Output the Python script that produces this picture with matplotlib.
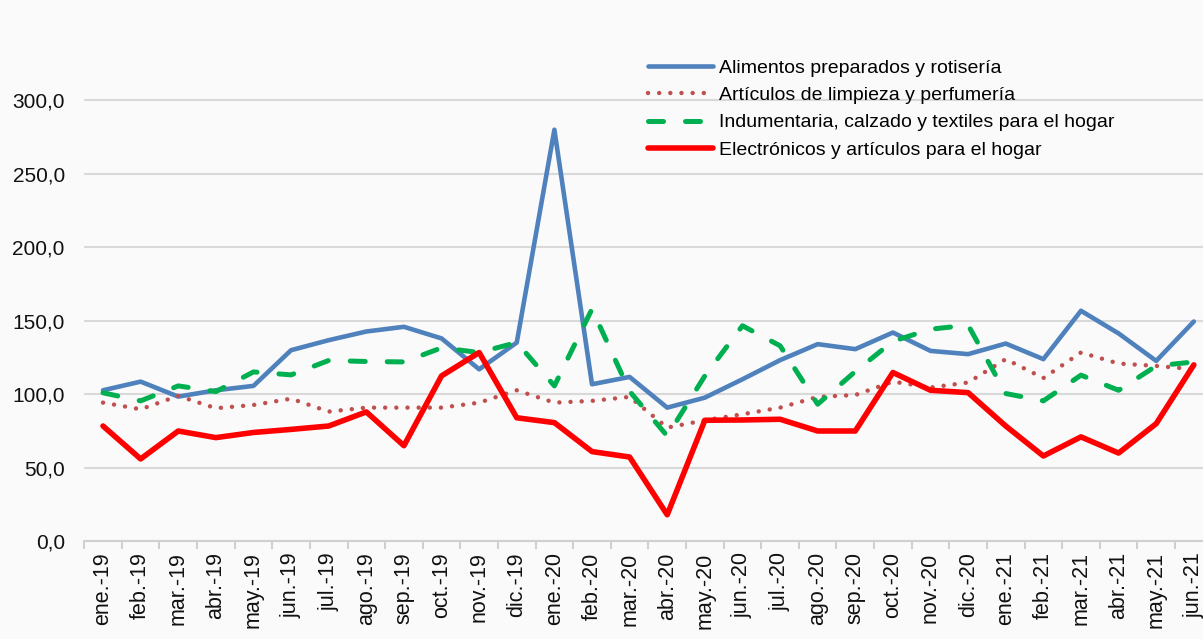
import matplotlib.pyplot as plt
from matplotlib.ticker import FuncFormatter, FixedLocator

plt.rcParams['font.family'] = ['Liberation Sans', 'DejaVu Sans']

meses = ['ene.-19', 'feb.-19', 'mar.-19', 'abr.-19', 'may.-19', 'jun.-19',
         'jul.-19', 'ago.-19', 'sep.-19', 'oct.-19', 'nov.-19', 'dic.-19',
         'ene.-20', 'feb.-20', 'mar.-20', 'abr.-20', 'may.-20', 'jun.-20',
         'jul.-20', 'ago.-20', 'sep.-20', 'oct.-20', 'nov.-20', 'dic.-20',
         'ene.-21', 'feb.-21', 'mar.-21', 'abr.-21', 'may.-21', 'jun.-21']

alimentos = [102.7, 108.6, 98.4, 102.7, 105.7, 130.0, 136.8, 142.7, 145.9, 138.0,
             117.0, 135.2, 280.0, 106.8, 111.8, 90.9, 97.7, 110.2, 123.2, 134.1,
             130.7, 142.0, 129.5, 127.3, 134.5, 123.9, 156.8, 141.4, 122.7, 149.5]

limpieza = [94.3, 89.8, 98.9, 90.5, 92.7, 97.0, 88.2, 90.9, 90.9, 90.9,
            94.3, 102.7, 94.3, 95.5, 98.2, 77.3, 82.3, 86.4, 90.9, 98.2,
            99.5, 108.6, 104.6, 108.0, 123.9, 111.0, 128.4, 120.9, 119.3, 117.0]

indumentaria = [101.0, 95.5, 105.7, 101.8, 115.2, 113.2, 123.0, 122.3, 122.0, 131.6,
                128.4, 135.2, 105.7, 158.0, 102.0, 71.6, 112.5, 146.6, 133.0, 93.2,
                115.5, 136.0, 144.3, 147.0, 100.5, 95.5, 113.0, 102.7, 119.3, 122.0]

electronicos = [78.4, 56.0, 75.0, 70.5, 74.0, 76.1, 78.4, 88.0, 65.0, 112.5,
                128.4, 84.0, 80.7, 61.0, 57.3, 18.0, 82.3, 82.5, 83.0, 75.0,
                75.0, 114.8, 102.7, 101.1, 78.4, 58.0, 71.0, 60.0, 80.0, 120.0]

series = ['Alimentos preparados y rotisería',
          'Artículos de limpieza y perfumería',
          'Indumentaria, calzado y textiles para el hogar',
          'Electrónicos y artículos para el hogar']

bg = '#fafafa'
fig = plt.figure(figsize=(12.03, 6.39), dpi=100, facecolor=bg)
ax = fig.add_axes([0.070, 0.153, 0.938, 0.805])
ax.set_facecolor(bg)

x = list(range(len(meses)))

ax.plot(x, alimentos, color='#4F81BD', lw=3.3, solid_capstyle='round',
        solid_joinstyle='round', label=series[0])
ax.plot(x, limpieza, color='#C0504D', lw=3.2, linestyle=(0, (0.01, 2.5)),
        dash_capstyle='round', label=series[1])
ax.plot(x, indumentaria, color='#00B050', lw=3.6, linestyle=(0, (3.0, 4.4)),
        dash_capstyle='round', label=series[2])
ax.plot(x, electronicos, color='#FF0000', lw=4.0, solid_capstyle='round',
        solid_joinstyle='round', label=series[3])

ax.set_xlim(-0.5, len(meses) - 0.5)
ax.set_ylim(0, 350)

ax.set_yticks([0, 50, 100, 150, 200, 250, 300])
ax.yaxis.set_major_formatter(FuncFormatter(lambda v, p: f'{v:.1f}'.replace('.', ',')))
ax.tick_params(axis='y', length=0, pad=14, labelsize=15, labelcolor='#111111')
ax.grid(axis='y', color='#d9d9d9', lw=1.5)
ax.set_axisbelow(True)

ax.set_xticks(x)
ax.set_xticklabels(meses, rotation=90, fontsize=15.5, color='#111111')
ax.xaxis.set_minor_locator(FixedLocator([i - 0.5 for i in range(len(meses) + 1)]))
ax.tick_params(axis='x', which='major', length=0, pad=8)
ax.tick_params(axis='x', which='minor', length=6, width=1.5, color='#d0d0d0')

for s in ['top', 'right', 'left']:
    ax.spines[s].set_visible(False)
ax.spines['bottom'].set_color('#d0d0d0')
ax.spines['bottom'].set_linewidth(1.5)

leg = ax.legend(loc='upper left', bbox_to_anchor=(0.532, 0.919),
                bbox_transform=fig.transFigure, frameon=False, fontsize=14,
                handlelength=3.35, handletextpad=0.3, labelspacing=0.49,
                borderaxespad=0)

fig.savefig('out.png', dpi=100, facecolor=bg)
